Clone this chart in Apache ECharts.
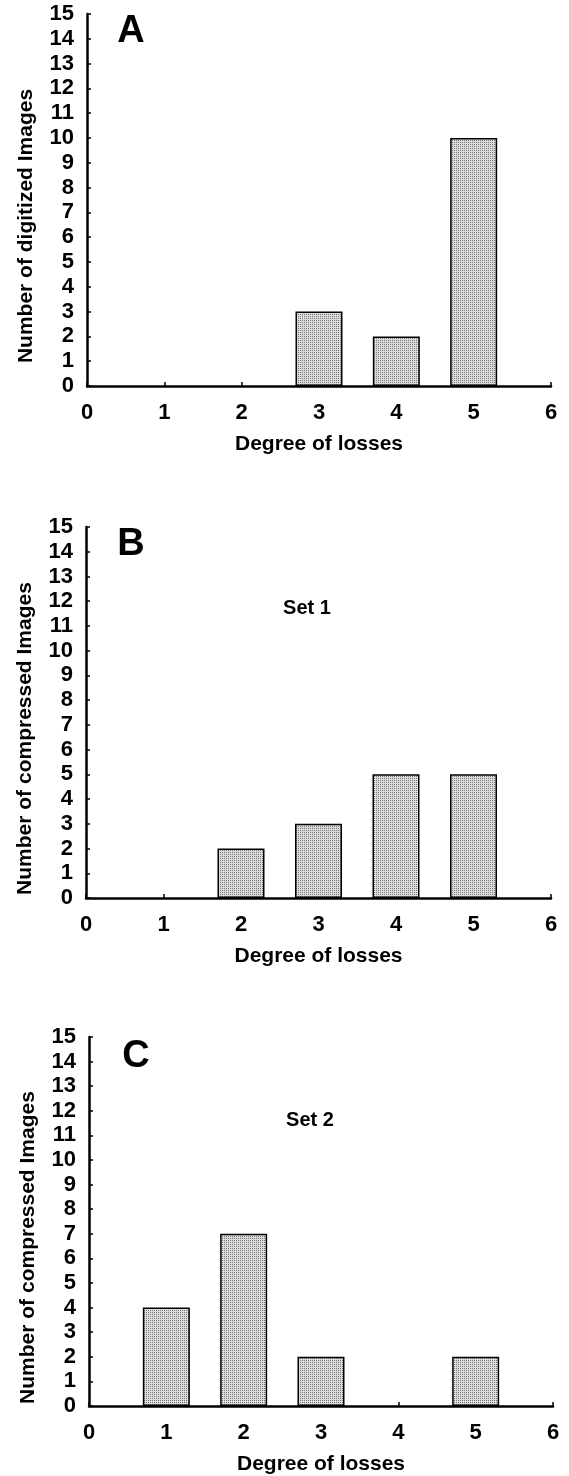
<!DOCTYPE html>
<html>
<head>
<meta charset="UTF-8">
<title>Degree of losses</title>
<script src="https://cdn.jsdelivr.net/npm/echarts@6/dist/echarts.min.js"></script>
<style>html,body{margin:0;padding:0;background:#fff;}</style>
</head>
<body>
<div id="main" style="width:569px;height:1476px;"></div>
<script type="text/javascript">
// data
var degrees = [1, 2, 3, 4, 5];
var digitized = [0, 0, 3, 2, 10];        // A
var compressedSet1 = [0, 2, 3, 5, 5];    // B
var compressedSet2 = [4, 7, 2, 0, 2];    // C
var panelLetters = ['A', 'B', 'C'];
var setNames = ['', 'Set 1', 'Set 2'];
var yNames = ['Number of digitized Images', 'Number of compressed Images', 'Number of compressed Images'];
var xName = 'Degree of losses';
var xMin = 0, xMax = 6, yMin = 0, yMax = 15;

var FONT = '"Liberation Sans", Arial, Helvetica, sans-serif';

// stippled grey fill like the print
function stipple() {
    var c = document.createElement('canvas');
    c.width = 2; c.height = 2;
    var ctx = c.getContext('2d');
    ctx.fillStyle = '#dcdcdc';
    ctx.fillRect(0, 0, 2, 2);
    ctx.fillStyle = '#777777';
    ctx.fillRect(0, 0, 1, 1);
    return c;
}
var pattern = { image: stipple(), repeat: 'repeat' };

var grids = [
    { left: 87, top: 14, width: 464, height: 372 },
    { left: 86, top: 527, width: 465, height: 371 },
    { left: 89, top: 1037, width: 464, height: 371 }
];
var seriesData = [digitized, compressedSet1, compressedSet2];
var letterPos = [[131, 32], [131, 545], [136, 1057]];
var setPos = [null, [307, 608], [310, 1120]];

var xAxes = [], yAxes = [], series = [], graphics = [];
for (var i = 0; i < 3; i++) {
    xAxes.push({
        type: 'value', gridIndex: i, min: xMin, max: xMax, interval: 1,
        name: xName, nameLocation: 'middle', nameGap: 48,
        nameTextStyle: { fontFamily: FONT, fontWeight: 'bold', fontSize: 21, color: '#000' },
        axisLine: { show: true, onZero: false, lineStyle: { color: '#000', width: 2.5 } },
        axisTick: { show: true, inside: true, length: 4, lineStyle: { color: '#000', width: 1.5 } },
        axisLabel: { margin: 16, fontFamily: FONT, fontWeight: 'bold', fontSize: 22, color: '#000' },
        splitLine: { show: false }
    });
    yAxes.push({
        type: 'value', gridIndex: i, min: yMin, max: yMax, interval: 1,
        name: yNames[i], nameLocation: 'middle', nameGap: 50, nameRotate: 90,
        nameTextStyle: { fontFamily: FONT, fontWeight: 'bold', fontSize: 21, color: '#000', padding: [0, 52, 0, 0] },
        axisLine: { show: true, lineStyle: { color: '#000', width: 2.5 } },
        axisTick: { show: true, inside: true, length: 4, lineStyle: { color: '#000', width: 1.5 } },
        axisLabel: { margin: 13, fontFamily: FONT, fontWeight: 'bold', fontSize: 22, color: '#000' },
        splitLine: { show: false }
    });
    var pts = [];
    for (var j = 0; j < degrees.length; j++) {
        if (seriesData[i][j] > 0) pts.push([degrees[j], seriesData[i][j]]);
    }
    series.push({
        type: 'bar', xAxisIndex: i, yAxisIndex: i, barWidth: 47,
        data: pts,
        itemStyle: { color: pattern, borderColor: '#000', borderWidth: 1.5 }
    });
    graphics.push({
        type: 'text', x: letterPos[i][0], y: letterPos[i][1],
        style: { text: panelLetters[i], font: 'bold 38px ' + FONT, fill: '#000', align: 'center', verticalAlign: 'middle' }
    });
    if (setNames[i]) {
        graphics.push({
            type: 'text', x: setPos[i][0], y: setPos[i][1],
            style: { text: setNames[i], font: 'bold 20px ' + FONT, fill: '#000', align: 'center', verticalAlign: 'middle' }
        });
    }
}

var myChart = echarts.init(document.getElementById('main'));
myChart.setOption({
    animation: false,
    backgroundColor: '#fff',
    grid: grids,
    xAxis: xAxes,
    yAxis: yAxes,
    series: series,
    graphic: graphics
});
</script>
</body>
</html>
